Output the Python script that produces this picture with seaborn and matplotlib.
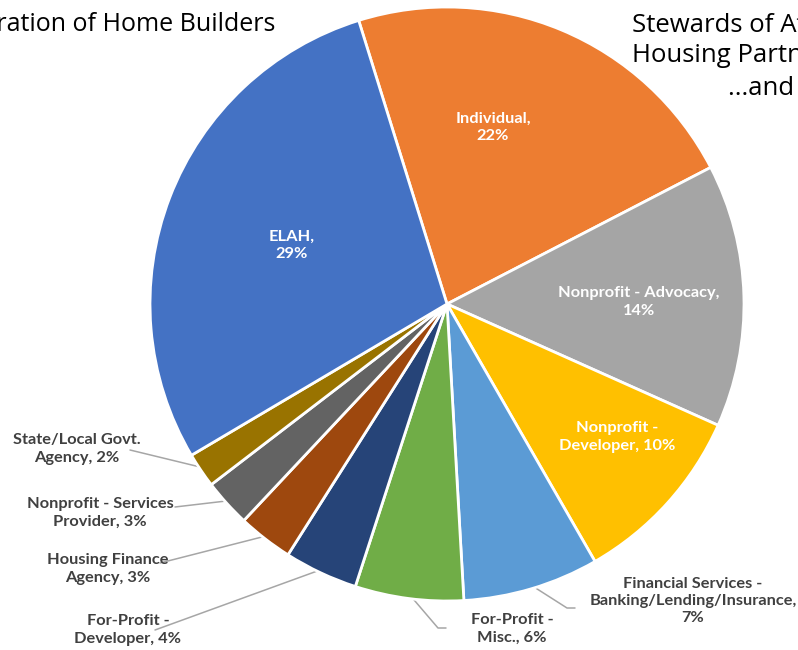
import numpy as np
import matplotlib
matplotlib.use("Agg")
import matplotlib.pyplot as plt
import seaborn as sns

# slices, clockwise starting with Individual
categories = ["Individual", "Nonprofit - Advocacy", "Nonprofit -\nDeveloper",
              "Financial Services -\nBanking/Lending/Insurance,\n",
              "For-Profit -\nMisc.", "For-Profit -\nDeveloper", "Housing Finance\nAgency",
              "Nonprofit - Services\nProvider", "State/Local Govt.\nAgency", "ELAH"]
shares = [22.2, 14.3, 10.0, 7.4, 5.9, 4.0, 3.0, 2.6, 1.9, 28.7]
colors = ["#ED7D31", "#A5A5A5", "#FFC000", "#5B9BD5", "#70AD47",
          "#264478", "#9E480E", "#636363", "#997300", "#4472C4"]

sns.set_theme(style="white")
plt.rcParams["font.family"] = ["Lato", "DejaVu Sans"]

W, H = 798, 650
fig = plt.figure(figsize=(W / 100, H / 100), dpi=100)
ax = fig.add_axes([0, 0, 1, 1])

cx, cy, R = 447, 304, 297
wedges, _ = ax.pie(shares, colors=colors, startangle=107.3, counterclock=False,
                   center=(cx, H - cy), radius=R,
                   wedgeprops=dict(edgecolor="white", linewidth=2))
ax.set_xlim(0, W)
ax.set_ylim(0, H)
ax.set_aspect("equal")
ax.axis("off")

def label_text(i):
    name = categories[i]
    pct = f"{round(shares[i])}%"
    if name.endswith("\n"):
        return name + pct
    if "\n" in name:
        return f"{name}, {pct}"
    return f"{name},\n{pct}"

# label centres (pixel coords) and whether inside
label_pos = [(493, 127), (639, 302), (617, 437), (693, 601), (512, 629),
             (128, 630), (108, 569), (100, 513), (77, 449), (292, 245)]
inside = [True, True, True, False, False, False, False, False, False, True]
# leader line anchor points near the labels (None for inside labels)
anchors = [None, None, None, [(575, 608), (567, 608)], [(446, 628), (438, 628)],
           [(155, 630)], [(160, 563)], [(175, 507)], [(130, 450)], None]

for i, w in enumerate(wedges):
    x, y = label_pos[i]
    txt = label_text(i)
    if inside[i]:
        ax.text(x, H - y, txt, ha="center", va="center", color="white",
                fontsize=11.8, fontweight="bold", linespacing=1.3)
    else:
        ax.text(x, H - y, txt, ha="center", va="center", color="#404040",
                fontsize=11.8, fontweight="bold", linespacing=1.3)
        mid = np.deg2rad((w.theta1 + w.theta2) / 2)
        ex = cx + (R - 4) * np.cos(mid)
        ey = (H - cy) + (R - 4) * np.sin(mid)
        pts = [(px, H - py) for px, py in anchors[i]] + [(ex, ey)]
        xs, ys = zip(*pts)
        ax.plot(xs, ys, color="#A6A6A6", lw=1.1, zorder=0.5)

# headings, partly cut off at the figure edges as in the slide
head_font = ["Open Sans", "DejaVu Sans"]
ax.text(275, H - 31, "A New Generation of Home Builders", ha="right", va="baseline",
        fontsize=18, color="black", family=head_font)
ax.text(632, H - 32, "Stewards of Affordable", ha="left", va="baseline",
        fontsize=18.5, color="black", family=head_font)
ax.text(632, H - 62, "Housing Partnerships", ha="left", va="baseline",
        fontsize=18.5, color="black", family=head_font)
ax.text(728, H - 95, "...and Beyond", ha="left", va="baseline",
        fontsize=18.5, color="black", family=head_font)

fig.savefig("out.png", dpi=100)
